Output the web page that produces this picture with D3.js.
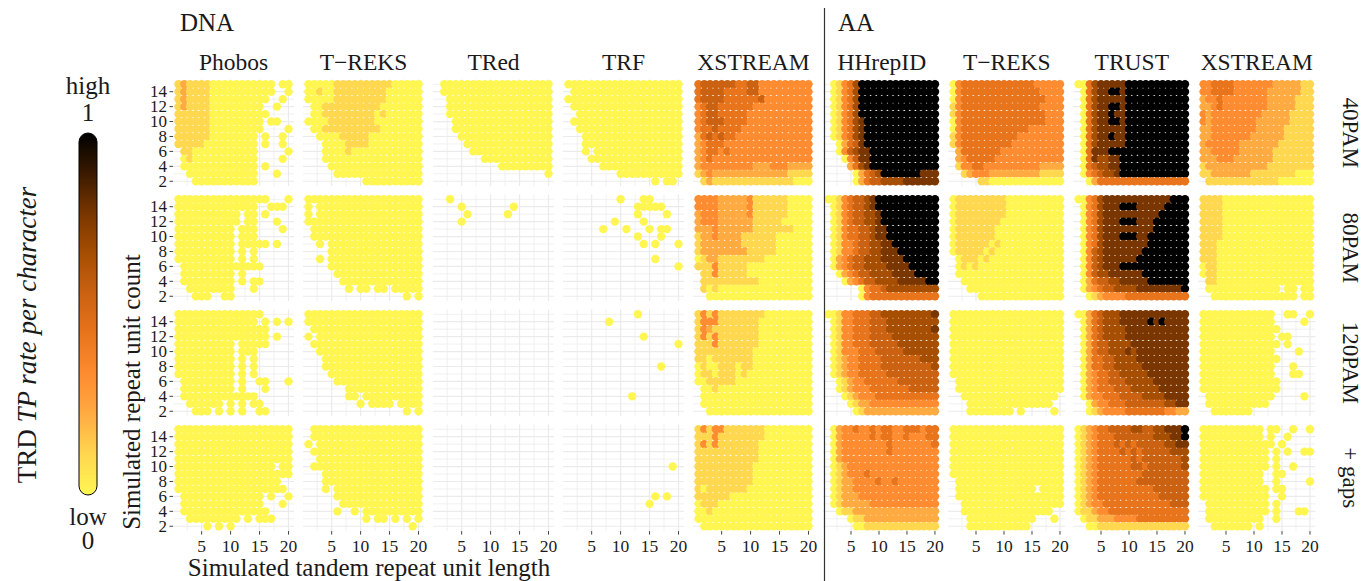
<!DOCTYPE html>
<html lang="en">
<head>
<meta charset="UTF-8">
<title>TRD TP rate per character</title>
<script src="https://d3js.org/d3.v7.min.js"></script>
<style>
  body { margin: 0; background: #fff; }
  text { font-family: "Liberation Serif", "DejaVu Serif", serif; fill: #1a1a1a; }
</style>
</head>
<body>
<script>
// facets and axes
var dnaMethods = ["Phobos", "T\u2212REKS", "TRed", "TRF", "XSTREAM"];
var aaMethods = ["HHrepID", "T\u2212REKS", "TRUST", "XSTREAM"];
var models = ["40PAM", "80PAM", "120PAM", "+ gaps"];
var xTicks = [5, 10, 15, 20];
var yTicks = [2, 4, 6, 8, 10, 12, 14];
var unitLengths = [1, 2, 3, 4, 5, 6, 7, 8, 9, 10, 11, 12, 13, 14, 15, 16, 17, 18, 19, 20];
var unitCounts = [15, 14, 13, 12, 11, 10, 9, 8, 7, 6, 5, 4, 3, 2];

// TP rate per character.
// one block per model, one string per repeat unit count (15 at top .. 2),
// one char per unit length (1..20, spaces are only there for reading):
// "." = no tandem repeat found, 0..9 = rate in ninths (9 = 1)
var dnaPhobos = [
  ["12111 10000 00000 00.00", "12111 10000 00000 00..0", "12111 10000 00000 0..0.", "12111 10000 00000 ..0..",
   "11111 10000 00000 0....", "11111 10000 00000 .00..", "11111 10000 00000 ....0", "11111 10000 0000. 0..0.",
   "11111 00000 0000. 0..0.", ".1100 00000 0000. ....0", ".0100 00000 0000. ...0.", ".0000 00000 0000. 0....",
   "..000 00000 0000. ..0..", "...00 00000 0000. ....."],
  ["00000 00000 00000 0...0", "00000 00000 0000. .000.", "00000 00000 0.00. 0....", "00000 00000 0.00. ..0..",
   "00000 00000 .000. ...0.", "00000 00000 .000. .....", "00000 00000 .0000 0.0..", "00000 00000 .0.0. .....",
   "00000 00000 .0.0. .....", ".0000 00000 00000 .....", ".0000 00000 .0... .....", ".0000 00000 .0.00 .....",
   "..000 00000 ...0. .....", "...00 0..00 ..... ....."],
  ["00000 00000 00000 .....", "00000 00000 0000. 0.0.0", "00000 00000 00000 0....", "00000 00000 00000 0.0..",
   "00000 00000 .0000 0....", "00000 00000 .000. .....", "00000 00000 .0.0. .....", "00000 00000 .0.0. .....",
   "00000 00000 .0.0. .....", ".0000 00000 .0..0 0...0", ".0000 00000 .0... 0....", ".0000 00000 0000. .....",
   "..000 000.0 .0.00 .....", "...00 0.0.0 .0..0 0...."],
  ["00000 00000 00000 00000", "00000 00000 00000 00000", "00000 00000 00000 00000", "00000 00000 00000 00000",
   "00000 00000 00000 00000", "00000 00000 00000 00.00", "00000 00000 00000 00000", "00000 00000 00000 000..",
   "00000 00000 00000 0000.", ".0000 00000 00000 .0..0", ".0000 00000 00000 ...0.", ".0000 00000 00000 0....",
   "..000 00000 0.0.0 00...", "..... 0.0.0 ..... ....."]
];
var dnaTreks = [
  ["00000 11111 11111 00000", "00100 11111 11110 00000", "00000 11111 11110 00000", ".0011 11111 11100 00000",
   ".0011 11111 11010 00000", "00001 11111 11000 00000", ".0011 11111 11100 00000", "..000 01111 10000 00000",
   "...00 00111 10000 00000", "...00 00100 00000 00000", "...00 00000 00000 00000", "....0 00000 00000 00000",
   "..... 00000 00000 00000", "..... ..... 00000 00000"],
  ["00000 00000 00000 00000", "0.000 00000 00000 00000", "0.000 00000 00000 00000", "00000 00000 00000 00000",
   ".0000 00000 00000 00000", ".0000 00000 00000 00000", "..0.0 00000 00000 00000", "....0 00000 00000 00000",
   "..0.0 00000 00000 00000", "....0 00000 00000 00000", "..... 00000 00000 00000", "..... .0000 00000 00000",
   "..... ..0.0 0.00. 00000", "..... ..... ..... ..0.0"],
  ["00000 00000 00000 00000", "00000 00000 00000 00000", ".0000 00000 00000 00000", "0.000 00000 00000 00000",
   ".0000 00000 00000 00000", "..000 00000 00000 00000", "...00 00000 00000 00000", "...00 00000 00000 00000",
   "....0 00000 00000 00000", "..... 00000 00000 00000", "..... ..000 00000 00000", "..... ..00. 00000 00000",
   "..... ....0 .0000 .0000", "..... ..... ..... ..0.0"],
  [".0000 00000 00000 00000", ".0000 00000 00000 00000", "0.000 00000 00000 00000", ".0000 00000 00000 00000",
   "..000 00000 00000 00000", ".0000 00000 00000 00000", "...00 00000 00000 00000", "...00 00000 00000 00000",
   "...0. 00000 00000 00000", "..... 00000 00000 00000", "..... .0000 00000 00000", "..... 0..0. 00000 00000",
   "..... ..... 0.00. 0.0.0", "..... ..... ..... ...0."]
];
var dnaTred = [
  [".0000 00000 00000 00000", ".0000 00000 00000 00000", "..000 00000 00000 00000", "..000 00000 00000 00000",
   "..000 00000 00000 00000", "...00 00000 00000 00000", "...00 00000 00000 00000", "....0 00000 00000 00000",
   "..... 00000 00000 00000", "..... .0000 00000 00000", "..... ...00 00000 00000", "..... ..... .0000 00000",
   "..... ..... ..... ....0", "..... ..... ..... ....."],
  ["..0.. ..... ..... .....", "....0 ..... ...0. .....", "..... 0.... ..0.. .....", "....0 ..... ..... .....",
   "", "", "", "", "", "", "", "", "", ""],
  ["", "", "", "", "", "", "", "", "", "", "", "", "", ""],
  ["", "", "", "", "", "", "", "", "", "", "", "", "", ""]
];
var dnaTrf = [
  ["00000 00000 00000 00000", ".0000 00000 00000 00000", "00000 00000 00000 00000", ".0000 00000 00000 00000",
   "..000 00000 00000 00000", ".0000 00000 00000 00000", "..000 00000 00000 00000", "...00 00000 00000 00000",
   "...00 00000 00000 00000", "...0. 00000 00000 00000", "....0 00000 00000 00000", "..... .0000 00000 00000",
   "..... ....0 00000 00000", "..... ..... ..... 0.00."],
  ["..... ....0 ...00 .....", "..... ..... ..000 00...", "..... ..... ..0.. ..0..", "..... ...0. ...0. .....",
   "..... .0... 0...0 .00..", "..... ..... ..0.. .0...", "..... ..... ...0. 0...0", "",
   "..... ..... ..... 0....", "..... ..... ..... ....0", "", "", "", ""],
  ["..... ..... ..0.. .....", "..... ..0.. ..... .....", "", "..... ..... ...0. .....",
   "..... ..... ..... ....0", "", "", "..... ..... ..... .0...",
   "", "", "", "..... ..... .0... .....", "", ""],
  ["", "", "", "", "", "..... ..... ..... ...0.", "", "",
   "", "..... ..... ..... 0.0..", "..... ..... ....0 .....", "", "", ""]
];
var dnaXstream = [
  ["45555 55445 53333 33333", "45555 44445 53333 33333", "45555 44444 45333 33333", "34554 44444 33333 33333",
   "34554 44443 33333 33333", "34555 44443 33333 33333", "34454 44433 33333 33333", "24545 44333 33333 33333",
   "23444 33333 33333 33333", "23443 43333 33333 33333", "23433 33333 33333 33333", "23333 33333 22233 32222",
   "12322 22222 22222 21111", ".1211 11111 11111 11000"],
  ["33332 22223 11111 10000", "33332 22223 11111 10000", "23332 22223 11111 10000", "23332 22222 11111 00000",
   "22232 22222 11111 11000", "12232 22211 11110 00000", "12222 22211 11110 00000", "12222 22221 11110 00000",
   "01221 11111 11000 00000", "11131 11110 00000 00000", ".1131 11110 00000 00000", ".1111 11111 10000 00000",
   ".1010 00000 00000 00000", "..000 00000 00000 00000"],
  ["13131 11111 11000 00000", "13331 11111 10000 00000", "13211 11111 10000 00000", "13131 11111 10000 00000",
   "11131 11111 10000 00000", "11111 11111 00000 00000", "11011 11111 00000 00000", "01001 11011 00000 00000",
   "01101 11010 00000 00000", "00111 11000 00000 00000", ".0010 00000 00000 00000", ".0000 00000 00000 00000",
   ".0000 00000 00000 00000", "..000 00000 00000 00000"],
  ["13133 11111 11000 00000", "11131 11111 11000 00000", "13131 11111 10000 00000", "11111 11111 10000 00000",
   "11111 11111 10000 00000", "11111 11111 00000 00000", "11111 11111 00000 00000", "11111 11111 00000 00000",
   "10111 11110 00000 00000", "11111 10000 00000 00000", "01110 00000 00000 00000", "00100 00000 00000 00000",
   "00000 00000 00000 00000", ".0000 00000 00000 00000"]
];
var aaHhrepid = [
  [".0134 69999 99999 99999", ".0134 69999 99999 99999", ".0134 69999 99999 99999", ".0134 69999 99999 99999",
   ".0134 69999 99999 99999", ".0134 67999 99999 99999", ".0134 67999 99999 99999", ".0134 67999 99999 99999",
   "..024 57999 99999 99999", "..035 67799 99999 99999", "...03 57799 99999 99999", "....2 46799 99999 99999",
   "..... 02456 99999 99777", "..... 02455 66667 77777"],
  ["00134 55679 99999 99999", ".0134 55679 99999 99999", ".0134 55667 99999 99999", ".0134 55667 99999 99999",
   ".0134 45567 79999 99999", ".0134 45567 79999 99999", ".0133 45566 77999 99999", ".0133 45566 77799 99999",
   ".0234 55666 77779 99999", ".0234 55666 67777 99999", "..023 45566 66777 79999", "...02 34556 66677 77799",
   "..... .0344 56666 66666", "..... .0344 44444 44444"],
  ["00133 44455 66666 66667", ".0133 44455 56666 66666", ".0133 44455 56666 66667", ".0133 44455 55666 66666",
   ".0133 44455 55566 66666", ".0133 34445 55556 66666", ".0123 34444 55555 55666", ".0123 34444 55555 55556",
   ".0123 34444 45555 55555", "..012 33444 44455 55555", "..012 33344 44444 55555", "...01 23334 44444 44444",
   "....0 12233 33333 33333", "..... 01222 22222 22222"],
  [".0233 43343 44334 44344", ".0233 33343 44334 33344", ".0233 33333 34333 33334", ".0233 33333 34333 33333",
   ".0233 33333 33333 33333", ".0123 33333 33333 33333", ".0123 33433 33333 33333", ".0122 33334 33433 33333",
   ".0122 33333 33333 33333", ".0122 23333 33333 33333", ".0122 22233 33333 33333", "..011 22222 22222 22222",
   "....0 11222 22222 22222", "..... 00111 11111 11111"]
];
var aaTreks = [
  ["03444 44444 44444 33333", "03444 44444 44444 43333", "03444 44444 44444 44333", "13444 44444 44444 43333",
   "13444 44444 44444 44333", "03444 44444 44444 44333", "03444 44444 44443 33333", "13444 44444 44333 33333",
   "13444 44444 43333 33333", ".2444 44443 33333 33333", ".2344 44433 33333 33333", ".1334 43333 33333 32222",
   "..123 33222 22222 21111", "..... 11000 00000 00000"],
  ["01111 11111 00000 00000", "01111 11111 00000 00000", "01111 11111 00000 00000", "01111 11110 00000 00000",
   "01111 11100 00000 00000", "01111 11100 00000 00000", "01111 11010 00000 00000", "01111 10100 00000 00000",
   ".0111 01000 00000 00000", ".0101 00000 00000 00000", ".0000 00000 00000 00000", "..000 00000 00000 00000",
   "...00 00000 00000 00000", "..... 00000 00000 00000"],
  ["00000 00000 00000 00000", "00000 00000 00000 00000", "00000 00000 00000 00000", "00000 00000 00000 00000",
   "00000 00000 00000 00000", "00000 00000 00000 00000", "00000 00000 00000 00000", "00000 00000 00000 00000",
   "00000 00000 00000 00000", ".0000 00000 00000 00000", ".0000 00000 00000 00000", "..000 00000 00000 0000.",
   "...00 00000 00000 000..", "...00 00000 0.0.. ...0."],
  ["00000 00000 00000 00000", "00000 00000 00000 00000", "00000 00000 00000 00000", "00000 00000 00000 00000",
   "00000 00000 00000 00000", "00000 00000 00000 00000", "00000 00000 00000 00000", ".0000 00000 00000 00000",
   ".0000 00000 00000 .0000", ".0000 00000 00000 00000", "..000 00000 00000 00000", "..000 00000 00000 000..",
   "...00 00000 00000 ...0.", "...00 00000 0000. ....."]
];
var aaTrust = [
  ["00467 77779 99999 99999", ".0467 79979 99999 99999", ".0467 77779 99999 99999", ".0467 79979 99999 99999",
   ".0467 79779 99999 99999", ".0467 79979 99999 99999", ".0467 77779 99999 99999", ".0467 79779 99999 99999",
   ".0467 77779 99999 99999", ".0477 79999 99999 99999", ".0476 67799 99999 99999", ".0456 67799 99999 99999",
   ".0345 66799 99999 99999", "..024 44444 44444 44444"],
  ["00346 77777 77777 77999", ".0346 77799 97777 79999", ".0346 77777 77777 99999", ".0346 77799 97779 99999",
   ".0346 77777 77779 99999", ".0346 77799 97799 99999", ".0346 77777 77799 99999", ".0356 77777 77999 99999",
   ".0356 77777 79999 99999", ".0356 77799 99999 99999", ".0356 67777 77999 99999", ".0245 56677 77799 99999",
   ".0234 55666 67777 77779", "..012 33334 44444 44444"],
  ["00245 66677 77777 77777", ".0245 66677 77797 97777", ".0245 66667 77777 77777", ".0245 66667 77777 77777",
   ".0245 56666 77777 77777", ".0245 56667 67777 77777", ".0244 55666 67777 77777", ".0244 55666 66777 77777",
   ".0234 45566 66677 77777", ".0234 45556 66667 77777", ".0234 44555 66666 77777", ".0233 44455 55666 67777",
   "..023 34445 55555 56677", "..012 33334 44444 43322"],
  ["01234 45555 66556 67779", "01234 44555 55556 66779", "01234 44545 45555 56677", "01234 44454 54555 55666",
   "01234 44444 54555 55556", "01234 44444 55455 55556", "01234 44444 44555 55555", "01234 44444 45555 55555",
   "01234 44444 44445 55555", "01234 44444 44444 55555", "01233 44444 44444 44555", "01123 34444 44444 44444",
   ".0112 22333 34444 44444", "..001 11111 11111 11111"]
];
var aaXstream = [
  ["33444 43333 33322 22211", "33444 43333 33222 22211", "23343 33333 33222 22111", "22343 33333 33222 22111",
   "32333 33333 32222 21111", "32333 33333 22222 21111", "22333 33333 22222 11111", "22333 33332 22222 11111",
   "23333 33222 22221 11111", "22333 33222 22211 11111", "22233 32222 22211 11111", "12222 22222 22111 11111",
   "11222 22221 11111 11000", ".1111 11111 11110 00000"],
  ["11110 00000 00000 00000", "11110 00000 00000 00000", "11110 00000 00000 00000", "11110 00000 00000 00000",
   "11110 00000 00000 00000", "11110 00000 00000 00000", "11100 00000 00000 00000", "11100 00000 00000 00000",
   "11100 00000 00000 00000", "01100 00000 00000 00000", "01100 00000 00000 00000", ".1100 00000 00000 00000",
   ".0000 00000 0000. 00.00", "..000 00000 00000 00.00"],
  ["00000 00000 000.. 00..0", "00000 00000 000.. ...0.", "00000 00000 0000. .....", "00000 00000 000.0 0....",
   "00000 00000 0000. 0....", "00000 00000 000.. ..0..", "00000 00000 0000. .....", "00000 00000 000.. .0...",
   "00000 00000 000.. .00..", "00000 00000 0000. .....", "00000 00000 0000. .....", ".0000 00000 000.. ...0.",
   ".0000 00000 00... .....", "..000 0000. ..... ....."],
  ["00000 00000 0.00. .0..0", "00000 00000 0.0.. 0....", "00000 00000 000.0 .....", "00000 00000 00.0. 0..00",
   "00000 00000 00.0. .....", "00000 00000 00.0. .0...", "00000 00000 0..00 .....", "00000 00000 0..0. ....0",
   "00000 00000 00.00 .....", "00000 00000 00..0 .....", ".0000 00000 00.0. .....", ".0000 00000 00.0. ..00.",
   ".0000 00000 0..0. .....", "..000 0000. 0.... ....."]
];
var dnaData = [dnaPhobos, dnaTreks, dnaTred, dnaTrf, dnaXstream];
var aaData = [aaHhrepid, aaTreks, aaTrust, aaXstream];

// colour bar
var legendEnds = ["high", "1", "low", "0"];
var colours = ["#FFF652", "#FFD850", "#FFAB42", "#FF8C30", "#E8741C",
               "#CB6212", "#A64E02", "#7A3600", "#3A1A00", "#000000"];
var colour = d3.scaleLinear()
    .domain(colours.map(function (c, i) { return i / (colours.length - 1); }))
    .range(colours);

var W = 1363, H = 581;
var svg = d3.select("body").append("svg")
    .attr("width", W)
    .attr("height", H);

var rowTop = 79.4, rowStep = 115, rowH = 106.7;
var dot = 4.2;

function cellsOf(block) {
    var out = [];
    block.forEach(function (row, i) {
        var s = row.replace(/ /g, "");
        for (var j = 0; j < s.length && j < unitLengths.length; j++) {
            if (s[j] === ".") continue;
            out.push({ len: unitLengths[j], count: unitCounts[i], rate: +s[j] / 9 });
        }
    });
    return out;
}

function drawGroup(methods, data, left0, step, width, yAxis) {
    methods.forEach(function (name, c) {
        var left = left0 + c * step;
        var x = d3.scaleLinear().domain([0.05, 20.95]).range([left, left + width]);

        svg.append("text")
            .attr("x", left + width / 2)
            .attr("y", 70)
            .attr("text-anchor", "middle")
            .style("font-size", "23.5px")
            .text(name);

        models.forEach(function (m, r) {
            var top = rowTop + r * rowStep;
            var y = d3.scaleLinear().domain([1.35, 15.65]).range([top + rowH, top]);
            var g = svg.append("g");

            g.selectAll(".gx")
                .data([2.5, 5, 7.5, 10, 12.5, 15, 17.5, 20])
                .enter().append("line")
                .attr("x1", d => x(d)).attr("x2", d => x(d))
                .attr("y1", top).attr("y2", top + rowH)
                .attr("stroke", "#ebebeb")
                .attr("stroke-width", d => d % 5 === 0 ? 1.2 : 0.7);
            g.selectAll(".gy")
                .data(unitCounts)
                .enter().append("line")
                .attr("x1", left).attr("x2", left + width)
                .attr("y1", d => y(d)).attr("y2", d => y(d))
                .attr("stroke", "#ebebeb")
                .attr("stroke-width", d => d % 2 === 0 ? 1.2 : 0.7);

            g.selectAll("circle")
                .data(cellsOf(data[c][r]))
                .enter().append("circle")
                .attr("cx", d => x(d.len))
                .attr("cy", d => y(d.count))
                .attr("r", dot)
                .attr("fill", d => colour(d.rate));

            if (yAxis && c === 0) {
                yTicks.forEach(function (t) {
                    svg.append("line")
                        .attr("x1", left - 3.5).attr("x2", left)
                        .attr("y1", y(t)).attr("y2", y(t))
                        .attr("stroke", "#444").attr("stroke-width", 1);
                    svg.append("text")
                        .attr("x", left - 6)
                        .attr("y", y(t) + 5.5)
                        .attr("text-anchor", "end")
                        .style("font-size", "17px")
                        .text(t);
                });
            }
            if (r === models.length - 1) {
                xTicks.forEach(function (t) {
                    svg.append("line")
                        .attr("x1", x(t)).attr("x2", x(t))
                        .attr("y1", top + rowH).attr("y2", top + rowH + 3.5)
                        .attr("stroke", "#444").attr("stroke-width", 1);
                    svg.append("text")
                        .attr("x", x(t))
                        .attr("y", top + rowH + 20.5)
                        .attr("text-anchor", "middle")
                        .style("font-size", "17.5px")
                        .text(t);
                });
            }
        });
    });
}

drawGroup(dnaMethods, dnaData, 173, 130, 121, true);
drawGroup(aaMethods, aaData, 823.3, 125, 117, false);

// row strips on the right
models.forEach(function (m, r) {
    var cy = rowTop + r * rowStep + rowH / 2;
    svg.append("text")
        .attr("transform", "translate(1343," + cy + ") rotate(90)")
        .attr("text-anchor", "middle")
        .style("font-size", "23px")
        .text(m);
});

// titles
svg.append("text").attr("x", 180).attr("y", 31).style("font-size", "25px").text("DNA");
svg.append("text").attr("x", 838).attr("y", 31).style("font-size", "25px").text("AA");
svg.append("line")
    .attr("x1", 824.5).attr("x2", 824.5)
    .attr("y1", 8).attr("y2", H)
    .attr("stroke", "#333").attr("stroke-width", 1.2);

svg.append("text")
    .attr("x", 369).attr("y", 576)
    .attr("text-anchor", "middle")
    .style("font-size", "25px")
    .text("Simulated tandem repeat unit length");
svg.append("text")
    .attr("transform", "translate(140,392) rotate(-90)")
    .attr("text-anchor", "middle")
    .style("font-size", "25px")
    .text("Simulated repeat unit count");

// legend
var defs = svg.append("defs");
var grad = defs.append("linearGradient")
    .attr("id", "tp")
    .attr("x1", 0).attr("y1", 1).attr("x2", 0).attr("y2", 0);
d3.range(0, 1.0001, 0.05).forEach(function (t) {
    grad.append("stop").attr("offset", t).attr("stop-color", colour(t));
});
svg.append("rect")
    .attr("x", 79).attr("y", 133)
    .attr("width", 18).attr("height", 362)
    .attr("rx", 9)
    .attr("fill", "url(#tp)")
    .attr("stroke", "#000").attr("stroke-width", 1);
[[94, 0], [121, 1], [525, 2], [549, 3]].forEach(function (p) {
    svg.append("text")
        .attr("x", 88).attr("y", p[0])
        .attr("text-anchor", "middle")
        .style("font-size", "25px")
        .text(legendEnds[p[1]]);
});
var lt = svg.append("text")
    .attr("transform", "translate(36,335) rotate(-90)")
    .attr("text-anchor", "middle")
    .style("font-size", "27px");
lt.append("tspan").text("TRD ");
lt.append("tspan").style("font-style", "italic").text("TP rate per character");
</script>
</body>
</html>
